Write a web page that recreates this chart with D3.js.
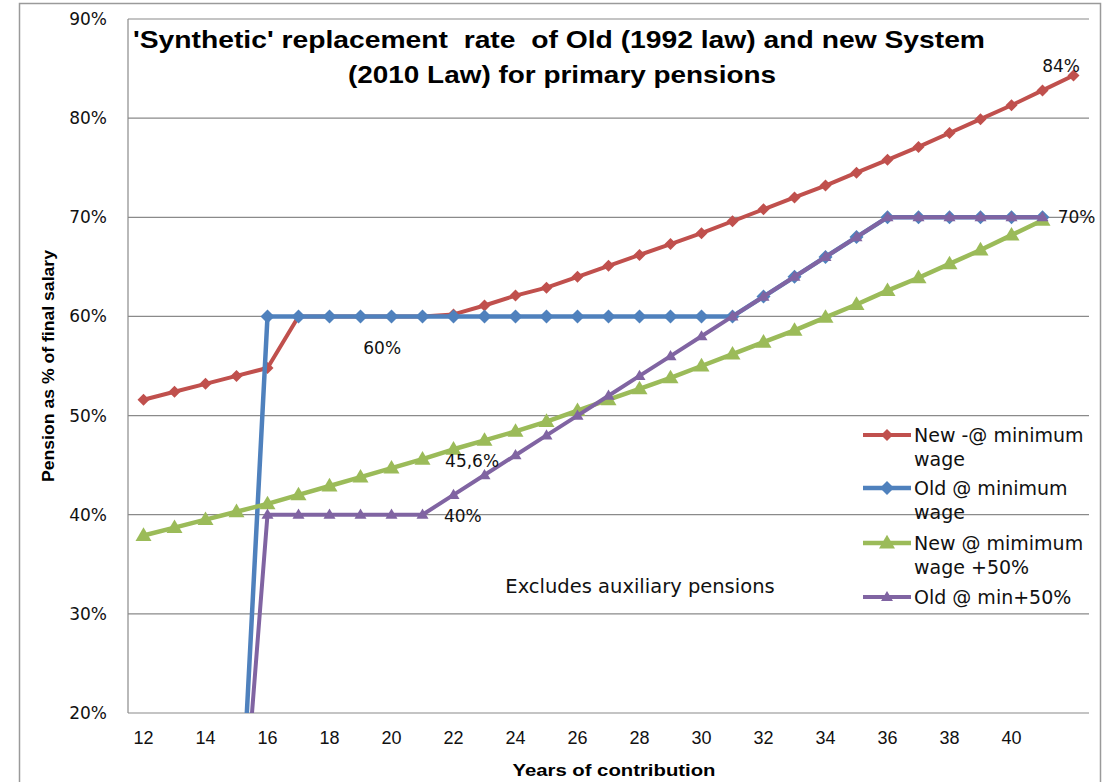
<!DOCTYPE html>
<html>
<head>
<meta charset="utf-8">
<script src="https://cdn.jsdelivr.net/npm/d3@7"></script>
<style>
  html, body { margin: 0; padding: 0; background: #fff; }
  svg { display: block; }
  .pre { white-space: pre; }
</style>
</head>
<body>
<svg id="chart" width="1112" height="782"></svg>
<script>
// ---- data ----
const years = [12,13,14,15,16,17,18,19,20,21,22,23,24,25,26,27,28,29,30,31,32,33,34,35,36,37,38,39,40,41,42];
const xTickLabels = [12,14,16,18,20,22,24,26,28,30,32,34,36,38,40];
const yTicks = [0.2,0.3,0.4,0.5,0.6,0.7,0.8,0.9];

const newMin = [51.6,52.4,53.2,54.0,54.8,60,60,60,60,60,60.2,61.1,62.1,62.9,64.0,65.1,66.2,67.3,68.4,69.6,70.8,72.0,73.2,74.5,75.8,77.1,78.5,79.9,81.3,82.8,84.3];
const oldMin = [null,null,null,0,60,60,60,60,60,60,60,60,60,60,60,60,60,60,60,60,62,64,66,68,70,70,70,70,70,70,null];
const newMin50 = [37.9,38.7,39.5,40.3,41.1,42.0,42.9,43.8,44.7,45.6,46.6,47.5,48.4,49.4,50.5,51.6,52.7,53.8,55.0,56.2,57.4,58.6,59.9,61.2,62.6,63.9,65.3,66.7,68.2,69.7,null];
const oldMin50 = [null,null,null,0,40,40,40,40,40,40,42,44,46,48,50,52,54,56,58,60,62,64,66,68,70,70,70,70,70,70,null];

const seriesNames = ["New -@ minimum\nwage", "Old @ minimum\nwage", "New @ mimimum\nwage +50%", "Old @ min+50%"];
const annotations = [
  {text: "60%", year: 19.7, value: 56.8},
  {text: "45,6%", year: 22.6, value: 45.4},
  {text: "40%", year: 22.3, value: 39.9},
  {text: "84%", year: 41.6, value: 85.3},
  {text: "70%", year: 42.1, value: 70}
];

// ---- setup ----
const svg = d3.select("#chart");
const L = 128, R = 1089, T = 19, B = 713;

const x = d3.scaleBand().domain(years).range([L, R]);
const xc = v => {
  const i = years.indexOf(v);
  if (i >= 0) return x(v) + x.bandwidth() / 2;
  return x(years[0]) + x.bandwidth() / 2 + (v - years[0]) * x.step();
};
const y = d3.scaleLinear().domain([0.2, 0.9]).range([B, T]);

// outer chart frame
svg.append("rect").attr("x", 19.5).attr("y", 3.5).attr("width", 1081).attr("height", 800)
  .attr("fill", "none").attr("stroke", "#9a9a9a").attr("stroke-width", 1.5);

// gridlines
svg.append("g").selectAll("line").data(yTicks).join("line")
  .attr("x1", L).attr("x2", R)
  .attr("y1", d => y(d)).attr("y2", d => y(d))
  .attr("stroke", "#8a8a8a").attr("stroke-width", 1.2);

// left axis line
svg.append("line").attr("x1", L).attr("x2", L).attr("y1", T).attr("y2", B)
  .attr("stroke", "#8a8a8a").attr("stroke-width", 1.2);

// y axis labels
const yAxis = d3.axisLeft(y).tickValues(yTicks).tickFormat(d3.format(".0%")).tickSize(0).tickPadding(21);
const gy = svg.append("g").attr("transform", `translate(${L},0)`).call(yAxis);
gy.select(".domain").remove();
gy.selectAll("text").attr("font-family", "DejaVu Sans").attr("font-size", 17).attr("fill", "#111");

// x axis labels
const xAxis = d3.axisBottom(x).tickValues(xTickLabels).tickSize(0).tickPadding(18);
const gx = svg.append("g").attr("transform", `translate(0,${B})`).call(xAxis);
gx.select(".domain").remove();
gx.selectAll("text").attr("font-family", "Liberation Sans").attr("font-size", 18).attr("fill", "#111");

// clip
svg.append("clipPath").attr("id", "plotclip").append("rect")
  .attr("x", L).attr("y", T - 10).attr("width", R - L + 10).attr("height", B - T + 10);

const series = [
  {vals: newMin, color: "#C0504D", marker: "diamond", size: 12, width: 4},
  {vals: oldMin, color: "#4F81BD", marker: "diamond", size: 14, width: 4.5},
  {vals: newMin50, color: "#9BBB59", marker: "triangle", size: 16, width: 4.5},
  {vals: oldMin50, color: "#8064A2", marker: "triangle", size: 12, width: 4}
];

const line = d3.line()
  .defined(d => d.v != null)
  .x(d => xc(d.year))
  .y(d => y(d.v / 100));

function markerPath(type, s) {
  const h = s / 2;
  if (type === "diamond") return `M0,${-h}L${h},0L0,${h}L${-h},0Z`;
  const th = s * 0.85;
  return `M0,${-th * 0.6}L${h},${th * 0.4}L${-h},${th * 0.4}Z`;
}

const plot = svg.append("g").attr("clip-path", "url(#plotclip)");
series.forEach(s => {
  const pts = years.map((yr, i) => ({year: yr, v: s.vals[i]}));
  plot.append("path").datum(pts).attr("d", line)
    .attr("fill", "none").attr("stroke", s.color).attr("stroke-width", s.width)
    .attr("stroke-linejoin", "round");
  plot.append("g").selectAll("path").data(pts.filter(d => d.v != null && d.v / 100 >= 0.2)).join("path")
    .attr("transform", d => `translate(${xc(d.year)},${y(d.v / 100)})`)
    .attr("d", markerPath(s.marker, s.size))
    .attr("fill", s.color);
});

// title
const title = svg.append("g").attr("font-family", "Liberation Sans").attr("font-weight", "bold")
  .attr("font-size", 24).attr("fill", "#000").attr("text-anchor", "middle");
title.append("text").attr("class", "pre").attr("xml:space", "preserve").attr("x", 559).attr("y", 48)
  .attr("textLength", 852).attr("lengthAdjust", "spacingAndGlyphs")
  .text("'Synthetic' replacement  rate  of Old (1992 law) and new System");
title.append("text").attr("x", 562).attr("y", 83)
  .attr("textLength", 428).attr("lengthAdjust", "spacingAndGlyphs")
  .text("(2010 Law) for primary pensions");

// axis titles
svg.append("text").attr("transform", "translate(54,366) rotate(-90)")
  .attr("text-anchor", "middle").attr("font-family", "Liberation Sans").attr("font-weight", "bold")
  .attr("font-size", 16).attr("textLength", 232).attr("lengthAdjust", "spacingAndGlyphs")
  .text("Pension as % of final salary");
svg.append("text").attr("x", 614).attr("y", 776)
  .attr("text-anchor", "middle").attr("font-family", "Liberation Sans").attr("font-weight", "bold")
  .attr("font-size", 16).attr("textLength", 203).attr("lengthAdjust", "spacingAndGlyphs")
  .text("Years of contribution");

// annotations
svg.append("g").selectAll("text").data(annotations).join("text")
  .attr("x", d => xc(d.year)).attr("y", d => y(d.value / 100))
  .attr("text-anchor", "middle").attr("dominant-baseline", "central")
  .attr("font-family", "DejaVu Sans").attr("font-size", 17).attr("fill", "#111")
  .text(d => d.text);

svg.append("text").attr("x", 640).attr("y", 586).attr("text-anchor", "middle")
  .attr("dominant-baseline", "central")
  .attr("font-family", "DejaVu Sans").attr("font-size", 19.5).attr("fill", "#111")
  .text("Excludes auxiliary pensions");

// legend
const legY = [435, 488, 543, 597];
const leg = svg.append("g");
series.forEach((s, i) => {
  const g = leg.append("g").attr("transform", `translate(0,${legY[i]})`);
  g.append("line").attr("x1", 863).attr("x2", 911).attr("y1", 0).attr("y2", 0)
    .attr("stroke", s.color).attr("stroke-width", s.width);
  g.append("path").attr("transform", "translate(887,0)").attr("d", markerPath(s.marker, s.size)).attr("fill", s.color);
  const lines = seriesNames[i].split("\n");
  const t = g.append("text").attr("font-family", "DejaVu Sans").attr("font-size", 19).attr("fill", "#111");
  lines.forEach((ln, j) => {
    t.append("tspan").attr("x", 914).attr("y", j * 24).attr("dominant-baseline", "central").text(ln);
  });
});
</script>
</body>
</html>
